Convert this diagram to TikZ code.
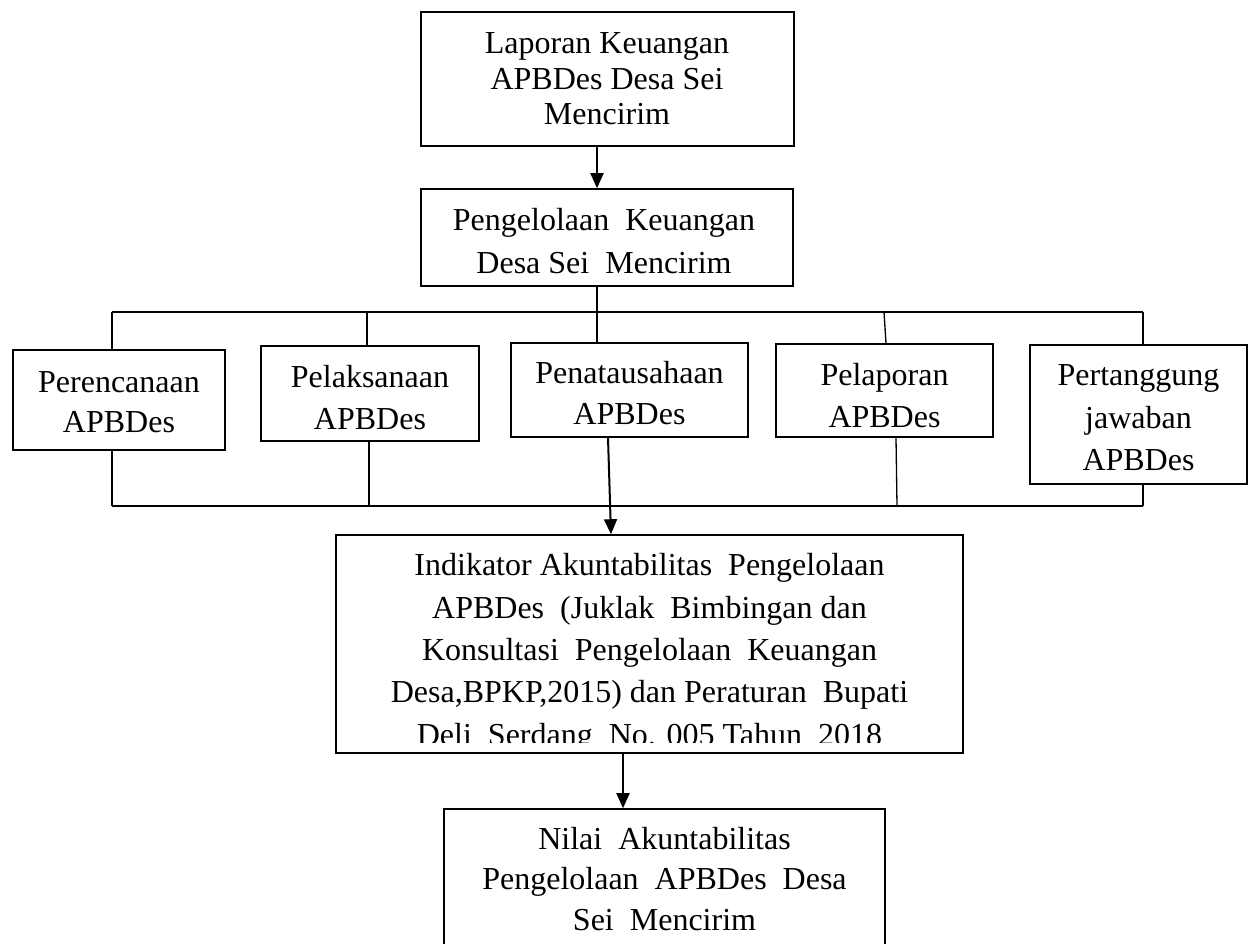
\documentclass[tikz,border=0pt]{standalone}
\usepackage{fontspec}
\setmainfont{Liberation Serif}
\usetikzlibrary{arrows.meta,calc}
\tikzset{
  box/.style={draw, rectangle, line width=1.6pt, inner sep=0pt},
  txt/.style={anchor=base, inner sep=0pt, font=\fontsize{32}{38}\selectfont},
  conn/.style={line width=1.3pt},
  arr/.style={line width=2pt, -{Triangle[width=13pt,length=15pt]}}
}
\begin{document}
\begin{tikzpicture}[x=1pt,y=-1pt]
\useasboundingbox (0,0) rectangle (1253,944);
\clip (0,0) rectangle (1253,944);
% boxes
\node[box, minimum width=373pt, minimum height=134pt] (b1) at (607.5,79) {};
\node[box, minimum width=372pt, minimum height=97pt] (b2) at (607,237.5) {};
\node[box, minimum width=212pt, minimum height=100pt] (r1) at (119,400) {};
\node[box, minimum width=218pt, minimum height=95pt] (r2) at (370,393.5) {};
\node[box, minimum width=237pt, minimum height=94pt] (r3) at (629.5,390) {};
\node[box, minimum width=217pt, minimum height=93pt] (r4) at (884.5,390.5) {};
\node[box, minimum width=217pt, minimum height=139pt] (r5) at (1138.5,414.5) {};
\node[box, minimum width=627pt, minimum height=218pt] (ind) at (649.5,644) {};
\node[box, minimum width=441pt, minimum height=170pt] (nil) at (664.5,894) {};
% texts
\node[txt] (t1a) at (607,54) {Laporan Keuangan};
\node[txt] (t1b) at (607,90) {APBDes Desa Sei};
\node[txt] (t1c) at (607,125) {Mencirim};
\node[txt] (t2a) at (604,231) {Pengelolaan\ \ Keuangan};
\node[txt] (t2b) at (604,273) {Desa Sei\ \ Mencirim};
\node[txt] (t3a) at (119,392) {Perencanaan};
\node[txt] (t3b) at (119,432) {APBDes};
\node[txt] (t4a) at (370,387) {Pelaksanaan};
\node[txt] (t4b) at (370,429) {APBDes};
\node[txt] (t5a) at (629.5,383) {Penatausahaan};
\node[txt] (t5b) at (629.5,424) {APBDes};
\node[txt] (t6a) at (884.5,385) {Pelaporan};
\node[txt] (t6b) at (884.5,427) {APBDes};
\node[txt] (t7a) at (1138.5,385) {Pertanggung};
\node[txt] (t7b) at (1138.5,428) {jawaban};
\node[txt] (t7c) at (1138.5,470) {APBDes};
\node[txt] (t8a) at (649.5,575) {Indikator Akuntabilitas\ \ Pengelolaan};
\node[txt] (t8b) at (649.5,618) {APBDes\ \ (Juklak\ \ Bimbingan dan};
\node[txt] (t8c) at (649.5,660) {Konsultasi\ \ Pengelolaan\ \ Keuangan};
\node[txt] (t8d) at (649.5,702) {Desa,BPKP,2015) dan Peraturan\ \ Bupati};
\begin{scope}
\clip (336,700) rectangle (963,742);
\node[txt] (t8e) at (649.5,745) {Deli\ \ Serdang\ \ No. 005 Tahun\ \ 2018};
\end{scope}
\node[txt] (t9a) at (664.5,849) {Nilai\ \ Akuntabilitas};
\node[txt] (t9b) at (664.5,889) {Pengelolaan\ \ APBDes\ \ Desa};
\node[txt] (t9c) at (664.5,930) {Sei\ \ Mencirim};
% junction coordinates
\coordinate (t0) at (597,312);
\coordinate (hL) at (112,312);
\coordinate (h2) at (367,312);
\coordinate (h4) at (884,312);
\coordinate (hR) at (1143,312);
\coordinate (gL) at (112,506);
\coordinate (g2) at (369,506);
\coordinate (g4) at (897,506);
\coordinate (gR) at (1143,506);
% arrows
\draw[arr] (b1.south -| t0) -- (b2.north -| t0);
\draw[arr] ($(r3.south)+(-21.5,0)$) -- ($(ind.north)+(-38.5,0)$);
\draw[arr] ($(ind.south)+(-26.5,0)$) -- ($(nil.north)+(-41.5,0)$);
% top distribution
\draw[conn] (b2.south -| t0) -- (t0);
\draw[conn] (hL) -- (hR);
\draw[conn] (hL) -- (r1.north -| hL);
\draw[conn] (h2) -- (r2.north -| h2);
\draw[conn] (t0) -- (r3.north -| t0);
\draw[conn] (h4) -- ($(r4.north)+(1.5,0)$);
\draw[conn] (hR) -- (r5.north -| hR);
% bottom collection
\draw[conn] (gL) -- (gR);
\draw[conn] (r1.south -| gL) -- (gL);
\draw[conn] (r2.south -| g2) -- (g2);
\draw[conn] ($(r4.south)+(11.5,0)$) -- (g4);
\draw[conn] (r5.south -| gR) -- (gR);
\end{tikzpicture}
\end{document}
